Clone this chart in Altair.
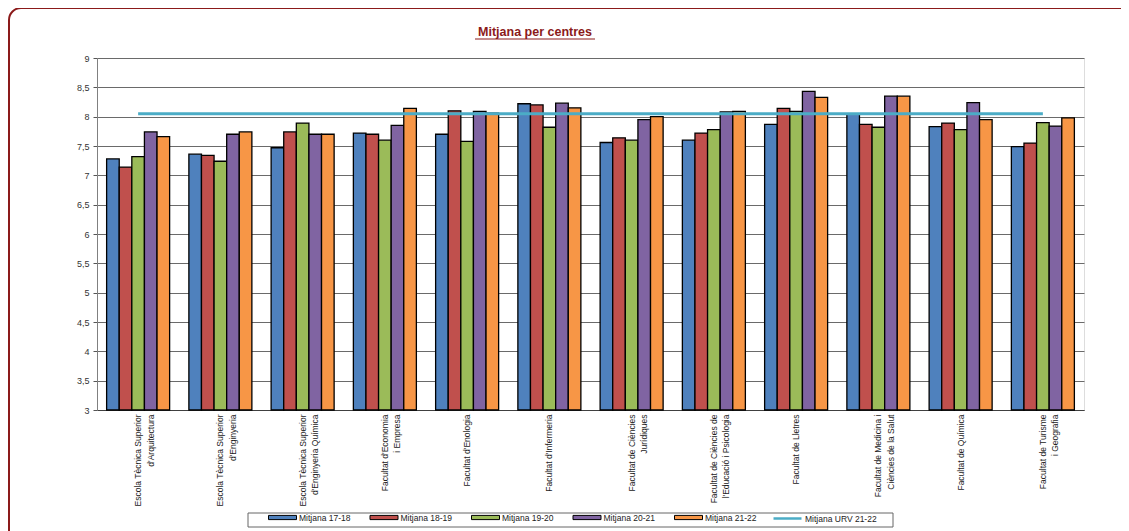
import altair as alt
import pandas as pd

title_text = "Mitjana per centres"

centres = [
    "Escola Tècnica Superior|d'Arquitectura",
    "Escola Tècnica Superior|d'Enginyeria",
    "Escola Tècnica Superior|d'Enginyeria Química",
    "Facultat d'Economia|i Empresa",
    "Facultat d'Enologia",
    "Facultat d'Infermeria",
    "Facultat de Ciències|Jurídiques",
    "Facultat de Ciències de|l'Educació i Psicologia",
    "Facultat de Lletres",
    "Facultat de Medicina i|Ciències de la Salut",
    "Facultat de Química",
    "Facultat de Turisme|i Geografia",
]

series_names = ["Mitjana 17-18", "Mitjana 18-19", "Mitjana 19-20",
                "Mitjana 20-21", "Mitjana 21-22"]
line_name = "Mitjana URV 21-22"

m1718 = [7.28, 7.36, 7.47, 7.72, 7.70, 8.22, 7.56, 7.60, 7.87, 8.05, 7.83, 7.49]
m1819 = [7.14, 7.34, 7.74, 7.70, 8.10, 8.20, 7.64, 7.72, 8.14, 7.87, 7.89, 7.55]
m1920 = [7.32, 7.24, 7.89, 7.60, 7.58, 7.82, 7.60, 7.78, 8.09, 7.82, 7.78, 7.90]
m2021 = [7.74, 7.70, 7.70, 7.85, 8.09, 8.23, 7.95, 8.08, 8.43, 8.35, 8.24, 7.84]
m2122 = [7.66, 7.74, 7.70, 8.14, 8.06, 8.15, 8.00, 8.09, 8.33, 8.35, 7.95, 7.98]
urv_2122 = 8.05

bar_colors = ["#4F81BD", "#C0504D", "#9BBB59", "#8064A2", "#F79646"]
line_color = "#4BACC6"
y_ticks = [3, 3.5, 4, 4.5, 5, 5.5, 6, 6.5, 7, 7.5, 8, 8.5, 9]

rows = []
for name, vals in zip(series_names, [m1718, m1819, m1920, m2021, m2122]):
    for c, v in zip(centres, vals):
        rows.append({"centre": c, "series": name, "value": v})
bars_df = pd.DataFrame(rows)
line_df = pd.DataFrame({"centre": centres, "series": line_name,
                        "value": [urv_2122] * len(centres)})
one_df = pd.DataFrame({"k": [0]})
title_df = pd.DataFrame({"t": [title_text]})

FONT = "Liberation Sans"
RECT_PATH = "M-1,-0.15H1V0.15H-1Z"
TITLE_RED = "#8B1A1A"

x_axis = alt.Axis(title=None, labelAngle=-90, labelFontSize=8.5, labelFont=FONT,
                  labelColor="#222222", labelPadding=4, labelLimit=300,
                  labelLineHeight=12.5, ticks=False, domainColor="#404040",
                  labelExpr="split(datum.label, '|')")
x_scale = alt.Scale(paddingInner=0.234, paddingOuter=0.117)
y_scale = alt.Scale(domain=[3, 9], nice=False, zero=False)
y_axis = alt.Axis(title=None, values=y_ticks, labelFontSize=9, labelFont=FONT,
                  labelColor="#333333", tickColor="#555555", tickSize=4,
                  labelPadding=4, labelOverlap=False, domainColor="#808080",
                  gridColor="#6A6A6A",
                  labelExpr="replace(format(datum.value, '.1~f'), '.', ',')")

bar_legend = alt.Legend(
    orient="none", legendX=171, legendY=445, direction="horizontal", title=None,
    columnPadding=16.5, symbolType=RECT_PATH, symbolSize=784,
    symbolStrokeColor="black", symbolStrokeWidth=1,
    labelFontSize=8.5, labelFont=FONT, labelColor="#222222", labelOffset=2,
    padding=0,
)
line_legend = alt.Legend(
    orient="none", legendX=675, legendY=445, direction="horizontal", title=None,
    symbolType="stroke", symbolSize=784, symbolStrokeWidth=2.5,
    labelFontSize=8.5, labelFont=FONT, labelColor="#222222", labelOffset=2,
    padding=0,
)

frame = alt.Chart(one_df).mark_rect(
    fill="white", fillOpacity=0, stroke=TITLE_RED, strokeWidth=2, cornerRadius=12
).encode(x=alt.value(-88), x2=alt.value(1050), y=alt.value(-50), y2=alt.value(490))

legend_box = alt.Chart(one_df).mark_rect(
    fill="white", stroke="#666666", strokeWidth=1
).encode(x=alt.value(151), x2=alt.value(796), y=alt.value(455), y2=alt.value(469))

bars = alt.Chart(bars_df).mark_bar(stroke="black", strokeWidth=1.3).encode(
    x=alt.X("centre:N", sort=centres, scale=x_scale, axis=x_axis),
    xOffset=alt.XOffset("series:N", sort=series_names),
    y=alt.Y("value:Q", scale=y_scale, axis=y_axis),
    y2=alt.datum(3),
    color=alt.Color("series:N", sort=series_names,
                    scale=alt.Scale(domain=series_names, range=bar_colors),
                    legend=bar_legend),
)

line = alt.Chart(line_df).mark_line(strokeWidth=3).encode(
    x=alt.X("centre:N", sort=centres, scale=x_scale, axis=x_axis),
    y=alt.Y("value:Q", scale=y_scale, axis=y_axis),
    stroke=alt.Stroke("series:N",
                      scale=alt.Scale(domain=[line_name], range=[line_color]),
                      legend=line_legend),
)

title = alt.Chart(title_df).mark_text(
    font=FONT, fontSize=12.5, fontWeight="bold", color=TITLE_RED,
    align="center", baseline="middle"
).encode(x=alt.value(438), y=alt.value(-26), text="t:N")

underline = alt.Chart(one_df).mark_rule(color=TITLE_RED, strokeWidth=1).encode(
    x=alt.value(378), x2=alt.value(498), y=alt.value(-19)
)

chart = alt.layer(frame, legend_box, bars, line, title, underline).properties(
    width=987, height=352,
    autosize=alt.AutoSizeParams(type="none"),
    padding={"left": 89, "top": 50, "right": 37, "bottom": 121},
).resolve_scale(color="independent", stroke="independent"
).configure_view(fill="#C0C0C0", stroke="#9A9A9A").configure(background="white")

chart.save("out.html", embed_options={"renderer": "svg", "actions": False})
